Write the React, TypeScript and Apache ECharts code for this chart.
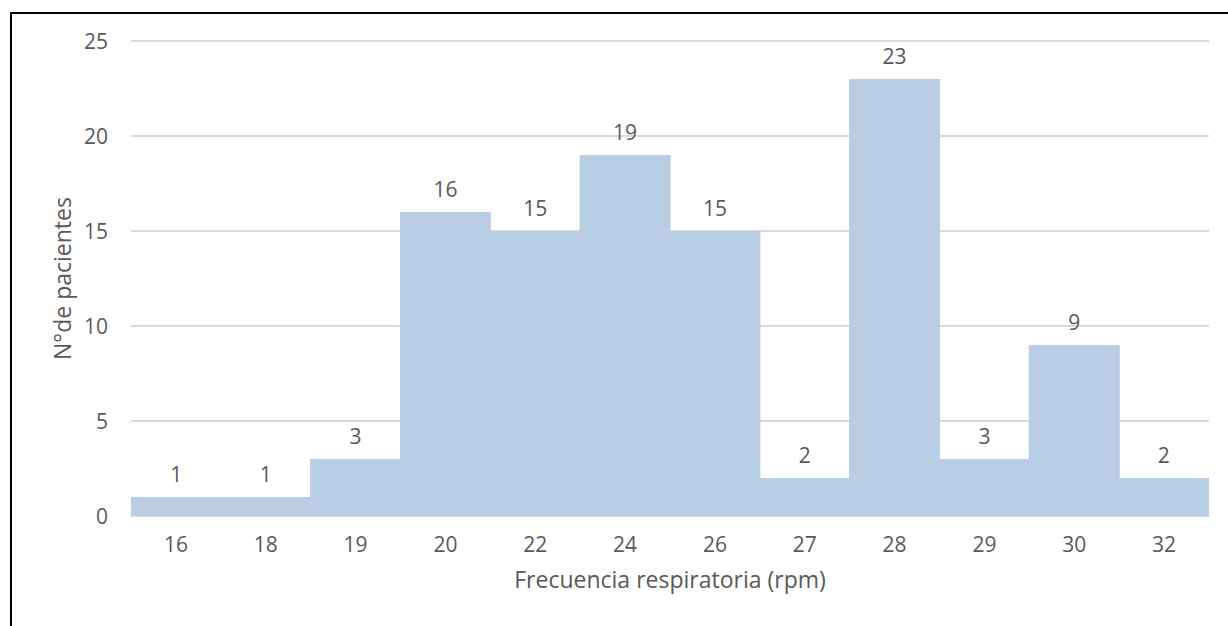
import React, { useEffect, useRef } from "react";
import * as echarts from "echarts";

const categories = ["16", "18", "19", "20", "22", "24", "26", "27", "28", "29", "30", "32"];
const patients = [1, 1, 3, 16, 15, 19, 15, 2, 23, 3, 9, 2];
const yTicks = { min: 0, max: 25, interval: 5 };
const xTitle = "Frecuencia respiratoria (rpm)";
const yTitle = "N°de pacientes";

const FONT = "'Open Sans', 'Noto Sans', sans-serif";
const TEXT = "#595959";
const BAR = "#B9CDE5";

export default function App() {
  const ref = useRef<HTMLDivElement>(null);
  useEffect(() => {
    if (!ref.current) return;
    const chart = echarts.init(ref.current, undefined, { renderer: "svg" });
    chart.setOption({
      animation: false,
      backgroundColor: "#ffffff",
      textStyle: { fontFamily: FONT },
      grid: { left: 131, right: 19, top: 41, bottom: 110, containLabel: false },
      xAxis: {
        type: "category",
        data: categories,
        name: xTitle,
        nameLocation: "middle",
        nameGap: 51,
        nameTextStyle: { color: TEXT, fontSize: 23, fontFamily: FONT },
        axisLine: { show: true, lineStyle: { color: "#D9D9D9", width: 2 } },
        axisTick: { show: false },
        axisLabel: { color: TEXT, fontSize: 21, fontFamily: FONT, margin: 17 },
      },
      yAxis: {
        type: "value",
        min: yTicks.min,
        max: yTicks.max,
        interval: yTicks.interval,
        name: yTitle,
        nameLocation: "middle",
        nameGap: 56,
        nameRotate: 90,
        nameTextStyle: { color: TEXT, fontSize: 23, fontFamily: FONT },
        axisLine: { show: false },
        axisTick: { show: false },
        axisLabel: { color: TEXT, fontSize: 21, fontFamily: FONT, margin: 23 },
        splitLine: { show: true, lineStyle: { color: "#D9D9D9", width: 2 } },
      },
      series: [
        {
          type: "bar",
          data: patients,
          barWidth: 91,
          barGap: "0%",
          itemStyle: { color: BAR },
          label: {
            show: true,
            position: "top",
            distance: 13,
            color: TEXT,
            fontSize: 21,
            fontFamily: FONT,
          },
        },
      ],
      graphic: [
        {
          type: "line",
          shape: { x1: 10, y1: 13, x2: 1228, y2: 13 },
          style: { stroke: "#000000", lineWidth: 2 },
          z: 100,
        },
        {
          type: "line",
          shape: { x1: 11, y1: 12, x2: 11, y2: 626 },
          style: { stroke: "#000000", lineWidth: 2 },
          z: 100,
        },
      ],
    });
    return () => chart.dispose();
  }, []);
  return (
    <div
      ref={ref}
      style={{ position: "fixed", left: 0, top: 0, width: 1228, height: 626, background: "#fff" }}
    />
  );
}
